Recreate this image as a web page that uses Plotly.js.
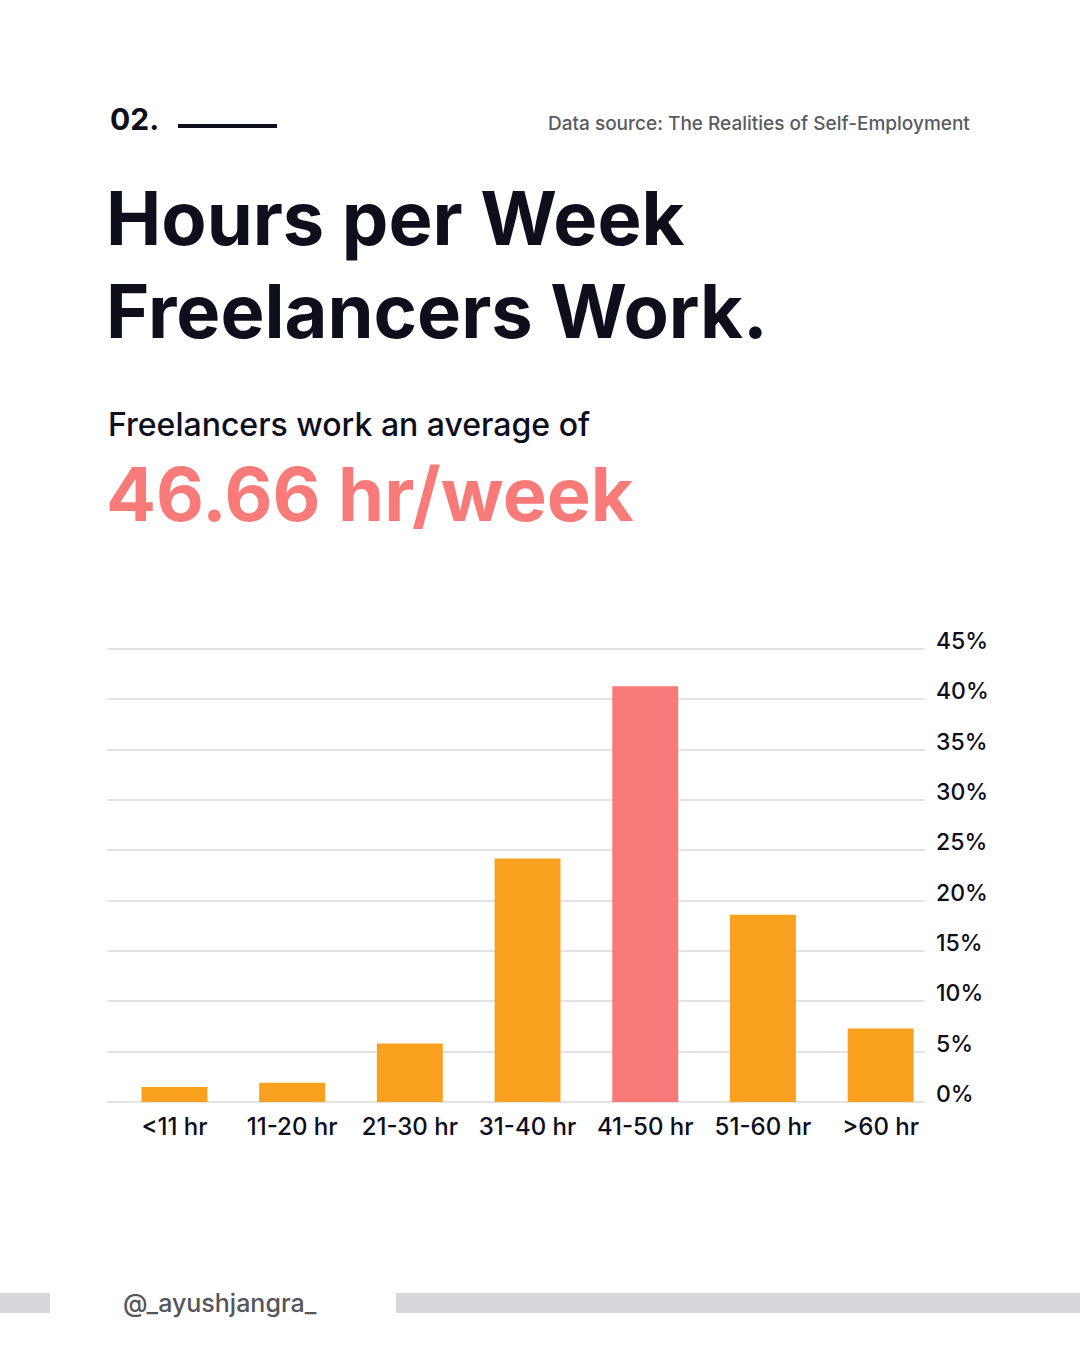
<!DOCTYPE html>
<html>
<head>
<meta charset="utf-8">
<script src="https://cdn.plot.ly/plotly-3.0.1.min.js"></script>
<style>
html,body{margin:0;padding:0;background:#fff;}
#chart{width:1080px;height:1350px;}
</style>
</head>
<body>
<div id="chart"></div>
<script>
const categories = ["<11 hr", "11-20 hr", "21-30 hr", "31-40 hr", "41-50 hr", "51-60 hr", ">60 hr"];
const shares = [1.5, 1.9, 5.8, 24.2, 41.3, 18.6, 7.3];
const highlight = "41-50 hr";
const yTickValues = [0, 5, 10, 15, 20, 25, 30, 35, 40, 45];
const yTickLabels = ["0%", "5%", "10%", "15%", "20%", "25%", "30%", "35%", "40%", "45%"];

const ORANGE = "#F9A11F";
const CORAL = "#F87B79";
const DARK = "#0E0E1C";
const FONT = "Inter, 'Noto Sans', sans-serif";

const barColors = categories.map(c => c === highlight ? CORAL : ORANGE);

const trace = {
  type: "bar",
  x: categories,
  y: shares,
  width: 0.56,
  marker: {color: barColors, line: {width: 0}},
  hoverinfo: "skip"
};

// plot area: x 107..925, y 647..1104 (value 0 at 1102, 45 at 649)
const PL = 107, PW = 818, PT = 647, PH = 457;
const px = x => (x - PL) / PW;
const py = y => (PT + PH - y) / PH;

const layout = {
  width: 1080,
  height: 1350,
  paper_bgcolor: "#ffffff",
  plot_bgcolor: "#ffffff",
  margin: {l: PL, r: 1080 - PL - PW, t: PT, b: 1350 - PT - PH, pad: 0},
  showlegend: false,
  xaxis: {
    type: "category",
    range: [-0.573, 6.377],
    showgrid: false,
    zeroline: false,
    showline: false,
    ticks: "",
    tickfont: {family: FONT, size: 24, color: DARK, weight: 500},
    ticklabelstandoff: 6,
    fixedrange: true
  },
  yaxis: {
    range: [-0.2, 45.2],
    side: "right",
    tickvals: yTickValues,
    ticktext: yTickLabels,
    showgrid: true,
    gridcolor: "#E3E3E6",
    gridwidth: 2,
    zeroline: false,
    showline: false,
    ticks: "",
    tickfont: {family: FONT, size: 23, color: DARK, weight: 500},
    ticklabelstandoff: 10,
    ticklabelshift: -8,
    fixedrange: true
  },
  shapes: [
    {type: "line", xref: "paper", yref: "paper", x0: px(178), x1: px(277),
     y0: py(126), y1: py(126), line: {color: DARK, width: 4}},
    {type: "rect", xref: "paper", yref: "paper", x0: px(0), x1: px(50),
     y0: py(1313), y1: py(1293), fillcolor: "#D7D7DB", line: {width: 0}},
    {type: "rect", xref: "paper", yref: "paper", x0: px(396), x1: px(1080),
     y0: py(1313), y1: py(1293), fillcolor: "#D7D7DB", line: {width: 0}}
  ],
  annotations: [
    {text: "<b>02.</b>", xref: "paper", yref: "paper", x: px(108), y: py(119),
     xanchor: "left", yanchor: "middle", showarrow: false,
     font: {family: FONT, size: 30, color: DARK}},
    {text: "Data source: The Realities of Self-Employment", xref: "paper", yref: "paper",
     x: px(972), y: py(123), xanchor: "right", yanchor: "middle", showarrow: false,
     font: {family: FONT, size: 19, color: "#5A5A62", weight: 500}},
    {text: "<b>Hours per Week</b>", xref: "paper", yref: "paper", x: px(104), y: py(218),
     xanchor: "left", yanchor: "middle", showarrow: false,
     font: {family: FONT, size: 74, color: DARK}},
    {text: "<b>Freelancers Work.</b>", xref: "paper", yref: "paper", x: px(104), y: py(311),
     xanchor: "left", yanchor: "middle", showarrow: false,
     font: {family: FONT, size: 74, color: DARK}},
    {text: "Freelancers work an average of", xref: "paper", yref: "paper", x: px(106), y: py(424),
     xanchor: "left", yanchor: "middle", showarrow: false,
     font: {family: FONT, size: 32, color: DARK, weight: 500}},
    {text: "<b>46.66 hr/week</b>", xref: "paper", yref: "paper", x: px(104), y: py(494),
     xanchor: "left", yanchor: "middle", showarrow: false,
     font: {family: FONT, size: 74, color: CORAL}},
    {text: "@_ayushjangra_", xref: "paper", yref: "paper", x: px(121), y: py(1303),
     xanchor: "left", yanchor: "middle", showarrow: false,
     font: {family: FONT, size: 25, color: "#55555C", weight: 500}}
  ]
};

Plotly.newPlot("chart", [trace], layout, {displayModeBar: false, staticPlot: true});
</script>
</body>
</html>
